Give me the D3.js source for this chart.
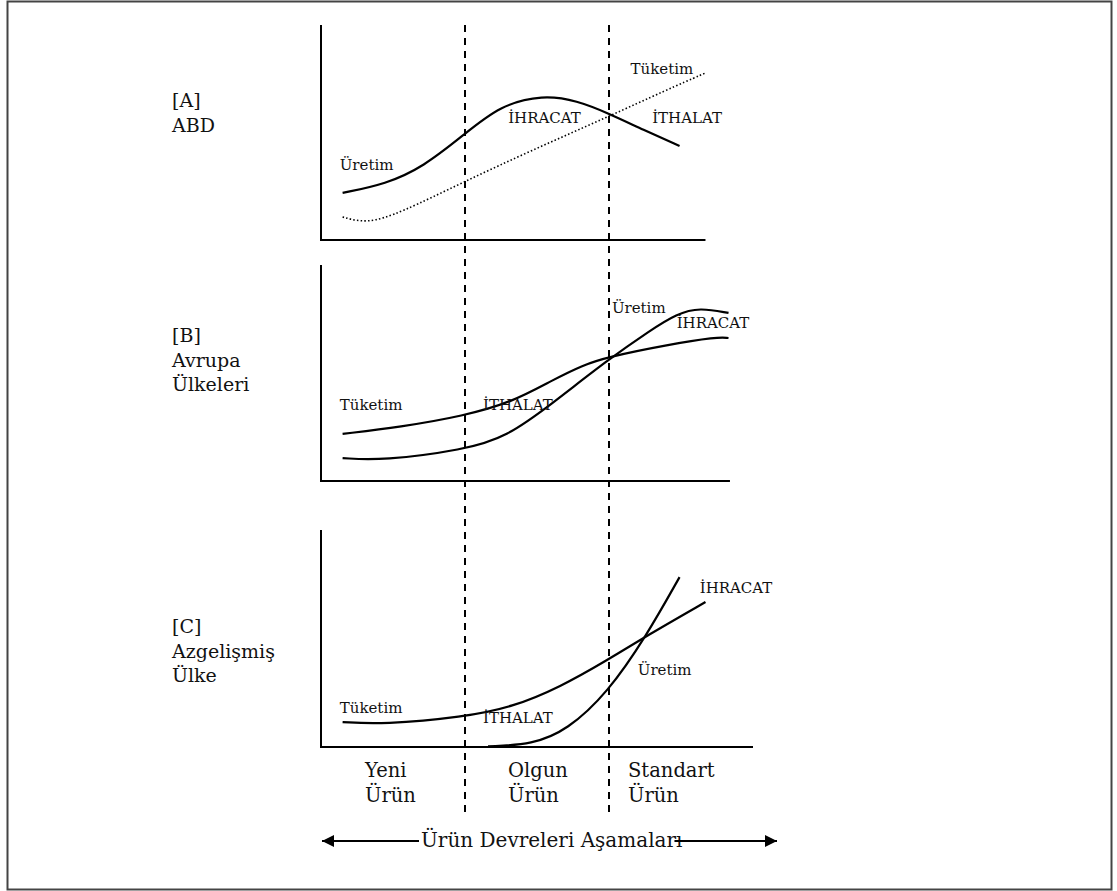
<!DOCTYPE html>
<html>
<head>
<meta charset="utf-8">
<script src="https://cdn.jsdelivr.net/npm/d3@7"></script>
<style>
  body { margin: 0; background: #fff; }
  text { font-family: "DejaVu Serif", serif; fill: #111; }
</style>
</head>
<body>
<div id="chart"></div>
<script>
// x is measured in product-cycle stages (0 = origin, 1 and 2 = stage borders)
// y is a relative amount from 0 (axis) to 100 (top of the panel)

// [A] ABD
let abdUretimX = [0.15, 0.45, 0.71, 0.99, 1.24, 1.54, 1.78, 1.99, 2.24, 2.49];
let abdUretimY = [21.9, 26.0, 34.0, 48.8, 62.5, 67.5, 64.8, 59.1, 51.2, 43.7];
let abdTuketimX = [0.15, 0.32, 0.55, 0.99, 1.47, 1.99, 2.40, 2.67];
let abdTuketimY = [10.7, 7.6, 12.6, 27.0, 41.9, 57.2, 69.8, 77.7];

// [B] Avrupa Ülkeleri
let avrTuketimX = [0.15, 0.55, 0.99, 1.33, 1.61, 1.82, 1.99, 2.40, 2.75, 2.83];
let avrTuketimY = [21.8, 25.0, 30.1, 36.6, 46.8, 53.7, 57.4, 63.0, 66.7, 66.2];
let avrUretimX = [0.15, 0.43, 0.99, 1.29, 1.61, 1.99, 2.29, 2.47, 2.63, 2.83];
let avrUretimY = [10.6, 9.5, 14.4, 20.4, 36.1, 56.0, 69.9, 77.4, 80.3, 77.8];

// [C] Azgelişmiş Ülke
let azgTuketimX = [0.15, 0.43, 0.99, 1.33, 1.66, 1.99, 2.26, 2.67];
let azgTuketimY = [11.5, 10.4, 13.8, 18.4, 27.6, 40.1, 51.2, 66.8];
let azgUretimX = [1.16, 1.47, 1.71, 1.99, 2.26, 2.49];
let azgUretimY = [0.3, 1.2, 7.8, 24.9, 51.2, 78.3];

let panelTitles = [['[A]', 'ABD'], ['[B]', 'Avrupa', 'Ülkeleri'], ['[C]', 'Azgelişmiş', 'Ülke']];
let axisEnds = [2.67, 2.84, 3.0];
let stageBorders = [1, 2];
let stageNames = [['Yeni', 'Ürün'], ['Olgun', 'Ürün'], ['Standart', 'Ürün']];
let bottomTitle = 'Ürün Devreleri Aşamaları';

// curve labels: [text, x, y] in data units per panel
let curveLabels = [
  [['Üretim', 0.13, 32.6], ['İHRACAT', 1.30, 54.4], ['İTHALAT', 2.30, 54.4], ['Tüketim', 2.15, 77.2]],
  [['Tüketim', 0.13, 32.9], ['İTHALAT', 1.125, 32.9], ['Üretim', 2.02, 77.8], ['İHRACAT', 2.47, 70.8]],
  [['Tüketim', 0.13, 15.7], ['İTHALAT', 1.125, 11.1], ['Üretim', 2.20, 33.2], ['İHRACAT', 2.63, 71.0]]
];

let seriesByPanel = [
  [{x: abdUretimX, y: abdUretimY, dotted: false}, {x: abdTuketimX, y: abdTuketimY, dotted: true}],
  [{x: avrTuketimX, y: avrTuketimY, dotted: false}, {x: avrUretimX, y: avrUretimY, dotted: false}],
  [{x: azgTuketimX, y: azgTuketimY, dotted: false}, {x: azgUretimX, y: azgUretimY, dotted: false}]
];

let width = 1117;
let height = 891;

let svg = d3.select('#chart')
.append('svg')
.attr('width', width)
.attr('height', height);

// outer frame
svg.append('rect')
.attr('x', 7.5)
.attr('y', 1.5)
.attr('width', 1104)
.attr('height', 888)
.attr('fill', 'none')
.attr('stroke', '#444')
.attr('stroke-width', 2);

let x = d3.scaleLinear().domain([0, 3]).range([321, 753]);

// pixel top / bottom of each panel
let panelBox = [[25, 240], [265, 481], [530, 747]];

let line = d3.line().curve(d3.curveBasis);

panelBox.forEach(function(box, i) {
  let y = d3.scaleLinear().domain([0, 100]).range([box[1], box[0]]);
  let g = svg.append('g');

  // axes
  g.append('path')
  .attr('d', `M${x(0)},${y(100)}V${y(0)}H${x(axisEnds[i])}`)
  .attr('fill', 'none')
  .attr('stroke', '#000')
  .attr('stroke-width', 2);

  seriesByPanel[i].forEach(function(s) {
    let pts = s.x.map((d, k) => [x(d), y(s.y[k])]);
    g.append('path')
    .attr('d', line(pts))
    .attr('fill', 'none')
    .attr('stroke', '#000')
    .attr('stroke-width', s.dotted ? 1.6 : 2.2)
    .attr('stroke-dasharray', s.dotted ? '1.5,2.2' : null);
  });

  curveLabels[i].forEach(function(l) {
    g.append('text')
    .attr('x', x(l[1]))
    .attr('y', y(l[2]))
    .style('font-size', '15px')
    .text(l[0]);
  });

  // panel title on the left
  let t = g.append('text')
  .attr('x', 172)
  .attr('y', box[0] + (i == 0 ? 82 : (i == 1 ? 77 : 103)))
  .style('font-size', '19px');
  panelTitles[i].forEach(function(s, k) {
    t.append('tspan')
    .attr('x', 172)
    .attr('dy', k == 0 ? 0 : 24.5)
    .text(s);
  });
});

// stage borders
svg.selectAll('.stage')
.data(stageBorders)
.enter()
.append('line')
.attr('x1', d => x(d))
.attr('x2', d => x(d))
.attr('y1', 25)
.attr('y2', 815)
.attr('stroke', '#000')
.attr('stroke-width', 2)
.attr('stroke-dasharray', '7,6');

// stage names
let stageX = [365, 508, 628];
stageNames.forEach(function(n, i) {
  let t = svg.append('text')
  .attr('x', stageX[i])
  .attr('y', 777)
  .style('font-size', '19.5px');
  n.forEach(function(s, k) {
    t.append('tspan')
    .attr('x', stageX[i])
    .attr('dy', k == 0 ? 0 : 25)
    .text(s);
  });
});

// bottom arrow with title
let defs = svg.append('defs');
defs.append('marker')
.attr('id', 'head')
.attr('viewBox', '0 0 10 10')
.attr('refX', 10)
.attr('refY', 5)
.attr('markerUnits', 'userSpaceOnUse')
.attr('markerWidth', 15)
.attr('markerHeight', 12)
.attr('orient', 'auto-start-reverse')
.append('path')
.attr('d', 'M0,0L10,5L0,10Z')
.attr('fill', '#000');

let title = svg.append('text')
.attr('x', 421)
.attr('y', 847)
.style('font-size', '20px')
.text(bottomTitle);
let bb = title.node().getBBox();
let arrowY = 841;

svg.append('line')
.attr('x1', 322)
.attr('x2', bb.x - 2)
.attr('y1', arrowY)
.attr('y2', arrowY)
.attr('stroke', '#000')
.attr('stroke-width', 2)
.attr('marker-start', 'url(#head)');

svg.append('line')
.attr('x1', bb.x + bb.width - 8)
.attr('x2', 777)
.attr('y1', arrowY)
.attr('y2', arrowY)
.attr('stroke', '#000')
.attr('stroke-width', 2)
.attr('marker-end', 'url(#head)');
</script>
</body>
</html>
